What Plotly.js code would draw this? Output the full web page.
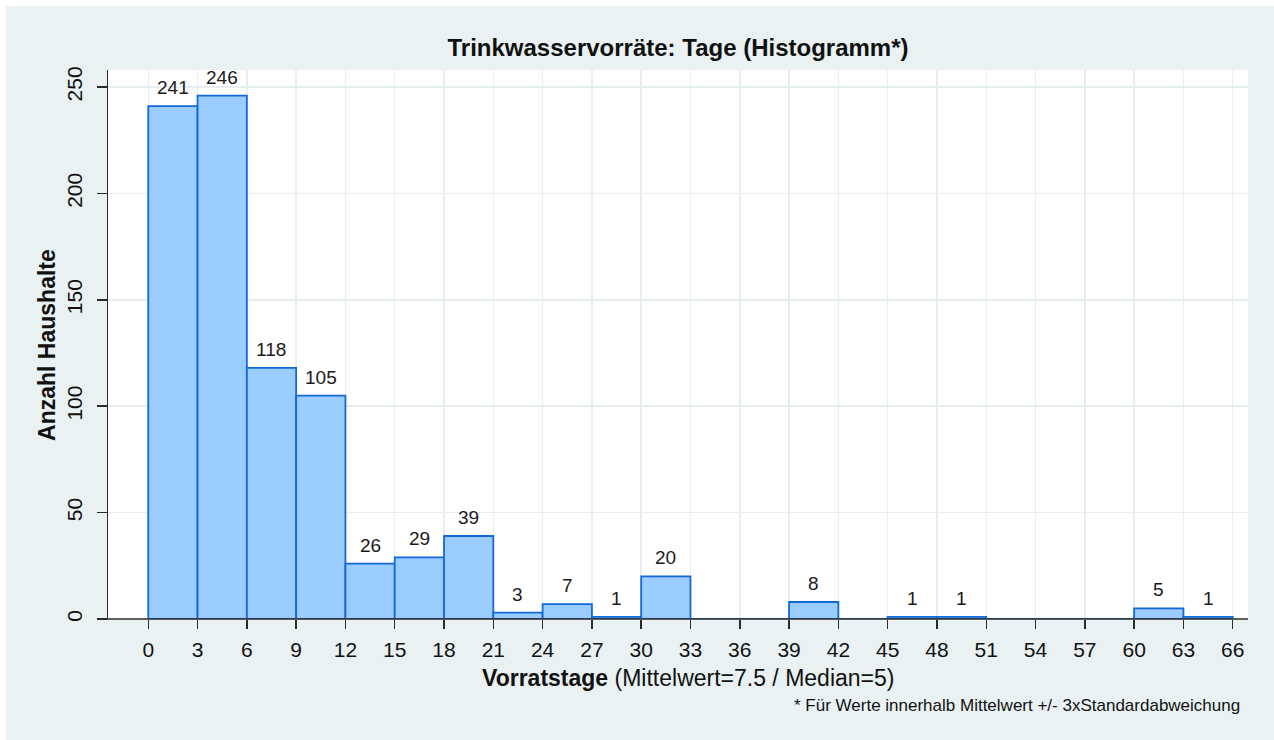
<!DOCTYPE html>
<html>
<head>
<meta charset="utf-8">
<script src="https://cdn.plot.ly/plotly-3.0.1.min.js"></script>
<style>
  html, body { margin: 0; padding: 0; background: #e9f1f3; overflow: hidden; width: 1274px; height: 740px; }
  .edge { position: absolute; background: #ffffff; }
  #chart { position: absolute; left: 6px; top: 6px; width: 1268px; height: 734px; }
</style>
</head>
<body>
<div class="edge" style="left:0;top:0;width:1274px;height:6px"></div>
<div class="edge" style="left:0;top:0;width:6px;height:740px"></div>
<div id="chart"></div>
<script>
// histogram bins (width 3 days) and household counts
const BIN_START = [0, 3, 6, 9, 12, 15, 18, 21, 24, 27, 30, 33, 36, 39, 42, 45, 48, 51, 54, 57, 60, 63];
const COUNTS    = [241, 246, 118, 105, 26, 29, 39, 3, 7, 1, 20, 0, 0, 8, 0, 1, 1, 0, 0, 0, 5, 1];
const BIN_WIDTH = 3;
const X_TICKS   = [0, 3, 6, 9, 12, 15, 18, 21, 24, 27, 30, 33, 36, 39, 42, 45, 48, 51, 54, 57, 60, 63, 66];
const Y_TICKS   = [0, 50, 100, 150, 200, 250];

const TITLE    = 'Trinkwasservorräte: Tage (Histogramm*)';
const X_TITLE  = '<b>Vorratstage</b> (Mittelwert=7.5 / Median=5)';
const Y_TITLE  = '<b>Anzahl Haushalte</b>';
const FOOTNOTE = '* Für Werte innerhalb Mittelwert +/- 3xStandardabweichung';

const FONT = 'Arial, "Liberation Sans", sans-serif';
const BG = '#e9f1f3';
const GRID = '#e6eef1';
const AXIS = '#2b2b2b';

const centers = BIN_START.map(s => s + BIN_WIDTH / 2);

const bars = {
  type: 'bar',
  x: centers,
  y: COUNTS,
  width: BIN_WIDTH,
  marker: { color: '#9accfd', line: { color: '#126ad8', width: 1.8 } },
  hoverinfo: 'x+y',
};

// count labels above each non-empty bar
const labels = [];
COUNTS.forEach((c, i) => {
  if (c <= 0) return;
  labels.push({
    x: centers[i], y: c, xref: 'x', yref: 'y',
    text: String(c), showarrow: false,
    yanchor: 'bottom', yshift: 6,
    font: { family: FONT, size: 19, color: '#1a1a1a' },
  });
});

const annotations = labels.concat([
  {
    text: X_TITLE, xref: 'paper', yref: 'paper', x: 0.509, y: -0.108,
    xanchor: 'center', yanchor: 'middle', showarrow: false,
    font: { family: FONT, size: 23, color: '#111' },
  },
  {
    text: Y_TITLE, xref: 'paper', yref: 'paper', x: -0.054, y: 0.5,
    xanchor: 'center', yanchor: 'middle', textangle: -90, showarrow: false,
    font: { family: FONT, size: 23, color: '#111' },
  },
  {
    text: FOOTNOTE, xref: 'paper', yref: 'paper', x: 0.9947, y: -0.158,
    xanchor: 'right', yanchor: 'middle', showarrow: false,
    font: { family: FONT, size: 17, color: '#111' },
  },
]);

const layout = {
  width: 1268, height: 734,
  margin: { l: 102, r: 26, t: 64, b: 121 },
  paper_bgcolor: BG,
  plot_bgcolor: '#ffffff',
  showlegend: false,
  bargap: 0,
  font: { family: FONT, color: '#111' },
  title: {
    text: '<b>' + TITLE + '</b>',
    font: { family: FONT, size: 24, color: '#111' },
    x: 0.5, xref: 'paper', xanchor: 'center',
    y: 1 - 42 / 734, yref: 'container', yanchor: 'middle',
  },
  xaxis: {
    range: [-2.45, 66.93],
    tickmode: 'array', tickvals: X_TICKS, ticktext: X_TICKS.map(String),
    ticks: 'outside', ticklen: 9, tickwidth: 1.5, tickcolor: AXIS,
    showgrid: true, gridcolor: GRID, gridwidth: 1.5,
    zeroline: false, showline: false,
    tickfont: { family: FONT, size: 21, color: '#111' },
    ticklabelstandoff: 3,
    fixedrange: true,
  },
  yaxis: {
    range: [0, 258],
    tickmode: 'array', tickvals: Y_TICKS, ticktext: Y_TICKS.map(String),
    tickangle: -90,
    ticks: 'outside', ticklen: 10, tickwidth: 1.5, tickcolor: AXIS,
    showgrid: true, gridcolor: GRID, gridwidth: 1.5,
    zeroline: false, showline: true, linecolor: AXIS, linewidth: 1.5,
    tickfont: { family: FONT, size: 21, color: '#111' },
    ticklabelstandoff: 6,
    fixedrange: true,
  },
  shapes: [
    // x axis line, running out past the y axis like the original
    { type: 'line', xref: 'paper', yref: 'paper', x0: -0.0088, x1: 1, y0: 0, y1: 0,
      line: { color: AXIS, width: 1.5 } },
  ],
  annotations,
};

Plotly.newPlot('chart', [bars], layout, { displayModeBar: false, staticPlot: true });
</script>
</body>
</html>
